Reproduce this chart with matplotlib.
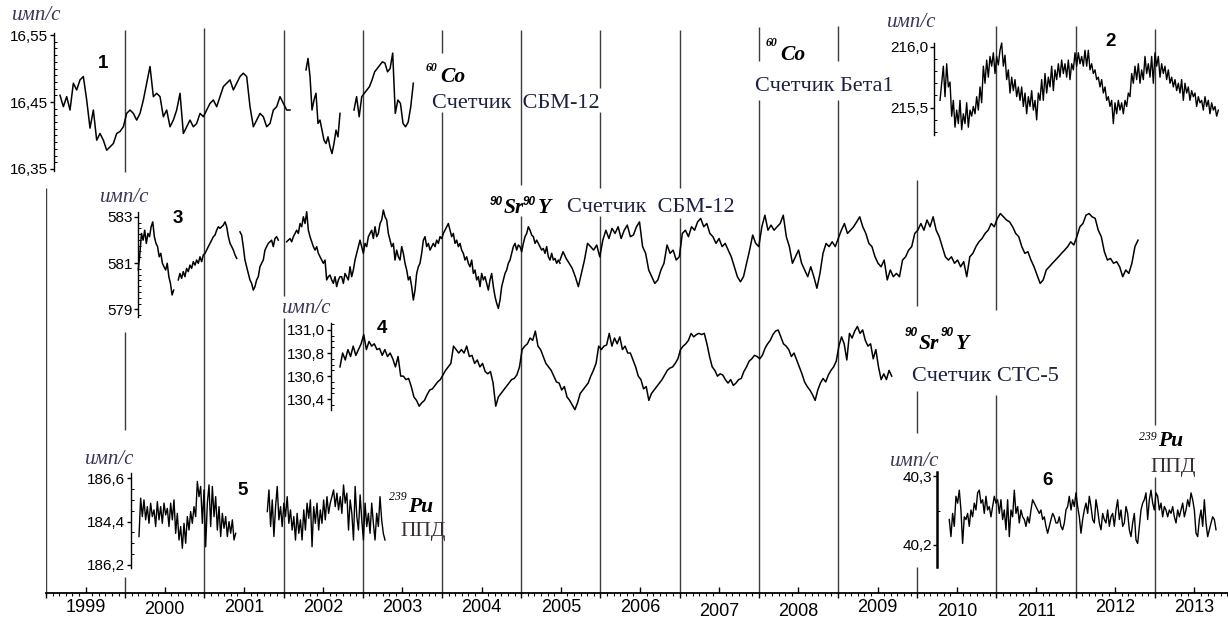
import numpy as np
import matplotlib.pyplot as plt
from matplotlib.ticker import FixedLocator, FixedFormatter, MultipleLocator

# ---------------- data: decimal years and count rates (имп/с) ----------------
years = list(range(1999, 2014))

# 1: 60Co, счетчик СБМ-12 (three pieces with gaps)
s1_spans = [(1999.177, 2002.081), (2002.283, 2002.712), (2002.889, 2003.638)]
s1_a = [16.460, 16.443, 16.458, 16.438, 16.478, 16.468, 16.483, 16.488, 16.453, 16.411,
        16.438, 16.393, 16.403, 16.393, 16.378, 16.383, 16.388, 16.403, 16.406, 16.413,
        16.433, 16.438, 16.433, 16.423, 16.433, 16.453, 16.478, 16.503, 16.458, 16.463,
        16.458, 16.428, 16.438, 16.413, 16.423, 16.438, 16.463, 16.403, 16.413, 16.423,
        16.413, 16.418, 16.433, 16.428, 16.438, 16.448, 16.453, 16.443, 16.458, 16.473,
        16.478, 16.483, 16.468, 16.478, 16.488, 16.493, 16.488, 16.443, 16.413, 16.423,
        16.433, 16.428, 16.413, 16.418, 16.438, 16.443, 16.458, 16.448, 16.438, 16.438]
s1_b = [16.498, 16.515, 16.488, 16.438, 16.453, 16.463, 16.418, 16.423, 16.408, 16.393,
        16.388, 16.398, 16.383, 16.373, 16.388, 16.408, 16.398, 16.433]
s1_c = [16.438, 16.458, 16.428, 16.458, 16.463, 16.468, 16.473, 16.483, 16.495, 16.500,
        16.505, 16.510, 16.508, 16.495, 16.500, 16.523, 16.433, 16.453, 16.448, 16.418,
        16.413, 16.420, 16.443, 16.478]

# 2: 60Co, счетчик Бета1
s2_spans = [(2010.288, 2013.802)]
s2_a = [215.56, 215.70, 215.84, 215.59, 215.86, 215.67, 215.71, 215.43, 215.56, 215.34,
        215.48, 215.37, 215.56, 215.32, 215.45, 215.37, 215.54, 215.34, 215.48, 215.43,
        215.51, 215.45, 215.59, 215.48, 215.67, 215.54, 215.84, 215.70, 215.89, 215.75,
        215.92, 215.84, 215.95, 215.78, 215.92, 215.85, 215.97, 216.03, 215.84, 215.93,
        215.73, 215.81, 215.62, 215.75, 215.64, 215.73, 215.59, 215.67, 215.56, 215.67,
        215.51, 215.62, 215.45, 215.59, 215.51, 215.64, 215.48, 215.56, 215.40, 215.62,
        215.56, 215.73, 215.56, 215.78, 215.62, 215.75, 215.67, 215.84, 215.64, 215.81,
        215.73, 215.86, 215.75, 215.89, 215.78, 215.86, 215.75, 215.89, 215.73, 215.86,
        215.81, 215.95, 215.84, 215.95, 215.86, 215.92, 215.84, 215.97, 215.84, 215.97,
        215.81, 215.86, 215.78, 215.81, 215.73, 215.75, 215.67, 215.73, 215.62, 215.67,
        215.56, 215.59, 215.51, 215.56, 215.37, 215.54, 215.45, 215.56, 215.48, 215.54,
        215.45, 215.56, 215.51, 215.62, 215.59, 215.78, 215.70, 215.84, 215.73, 215.86,
        215.70, 215.81, 215.73, 215.92, 215.78, 215.86, 215.75, 215.92, 215.70, 215.95,
        215.84, 215.92, 215.75, 215.86, 215.78, 215.84, 215.73, 215.81, 215.70, 215.75,
        215.67, 215.73, 215.64, 215.70, 215.62, 215.73, 215.56, 215.70, 215.62, 215.67,
        215.56, 215.64, 215.59, 215.62, 215.51, 215.59, 215.54, 215.56, 215.48, 215.59,
        215.51, 215.56, 215.45, 215.54, 215.48, 215.51, 215.43, 215.48]

# 3: 90Sr90Y, счетчик СБМ-12
s3_spans = [(2000.165, 2000.612), (2000.670, 2001.408), (2001.449, 2001.933),
            (2002.039, 2005.490), (2005.490, 2012.788)]
s3_a = [580.70, 581.42, 582.28, 581.99, 582.42, 581.85, 582.28, 582.14, 582.57, 582.78,
        582.14, 581.85, 581.71, 581.27, 581.42, 580.99, 580.84, 580.70, 580.99, 580.41,
        580.12, 579.62, 579.83]
s3_b = [580.27, 580.55, 580.34, 580.63, 580.41, 580.77, 580.63, 580.91, 580.77, 581.06,
        580.91, 581.13, 580.99, 581.27, 581.06, 581.35, 581.42, 581.56, 581.71, 581.85,
        581.99, 582.14, 582.21, 582.42, 582.57, 582.50, 582.57, 582.64, 582.78, 582.57,
        582.14, 581.85, 581.71, 581.56, 581.35, 581.20]
s3_c = [582.35, 582.21, 581.71, 581.13, 580.84, 580.55, 580.27, 580.12, 579.83, 579.98,
        580.27, 580.41, 580.84, 580.99, 581.13, 581.56, 581.71, 581.85, 581.92, 581.99,
        581.71, 582.06, 582.14, 581.99]
s3_d = [581.92, 581.99, 582.06, 581.92, 582.14, 582.28, 582.42, 582.28, 582.71, 582.57,
        583.00, 582.71, 583.22, 582.42, 582.14, 581.92, 581.71, 581.56, 581.71, 581.42,
        581.27, 581.13, 580.99, 581.13, 580.27, 580.41, 580.48, 580.27, 580.12, 580.41,
        579.98, 580.27, 580.41, 580.41, 580.12, 580.55, 580.41, 580.27, 580.84, 580.41,
        580.70, 581.13, 581.42, 581.71, 581.99, 581.71, 581.42, 581.85, 581.71, 582.14,
        582.28, 582.42, 582.06, 582.57, 582.14, 582.28, 582.71, 582.86, 583.29, 583.00,
        582.86, 582.28, 581.99, 581.71, 581.85, 581.13, 581.56, 581.27, 581.13, 581.71,
        581.42, 580.99, 580.70, 580.27, 580.41, 579.98, 579.40, 579.83, 580.55, 580.84,
        580.99, 581.42, 581.99, 582.14, 581.71, 581.85, 581.56, 581.71, 581.85, 581.71,
        581.99, 581.85, 582.14, 582.06, 582.28, 582.42, 582.57, 582.71, 582.42, 582.14,
        582.28, 581.85, 581.99, 581.71, 581.85, 581.56, 581.42, 581.13, 581.27, 580.99,
        580.84, 581.13, 580.55, 580.70, 580.27, 580.41, 579.98, 580.55, 580.27, 580.41,
        580.12, 579.83, 580.27, 580.55, 579.98, 579.55, 579.26, 579.04, 579.40, 579.98,
        580.27, 580.55, 580.70, 580.99, 581.13, 581.42, 581.71, 581.85, 581.56, 581.78,
        581.71, 581.49, 581.85, 582.14, 582.28, 582.57, 582.42, 582.21, 582.14, 581.85,
        581.99, 581.85, 581.71, 581.56, 581.63, 581.42, 581.71, 581.27, 581.13, 581.42,
        581.13, 581.20, 580.99, 581.13, 580.99]
s3_e = [581.13, 581.49, 581.20, 580.99, 580.77, 580.41, 579.98, 580.55, 581.13, 581.85,
        581.71, 581.56, 581.78, 581.27, 581.99, 582.42, 582.06, 582.50, 582.28, 582.57,
        582.06, 582.42, 582.64, 582.14, 582.21, 582.57, 582.78, 581.71, 581.42, 580.70,
        580.41, 580.12, 580.27, 580.70, 580.99, 581.78, 581.42, 581.56, 581.13, 581.27,
        582.28, 582.42, 582.14, 582.57, 582.42, 582.78, 582.93, 582.57, 582.71, 582.28,
        582.14, 581.85, 582.06, 581.71, 581.85, 581.56, 581.27, 580.84, 580.41, 580.19,
        580.41, 580.99, 581.56, 582.21, 581.85, 581.71, 582.57, 583.07, 582.42, 582.64,
        582.42, 582.57, 582.71, 583.07, 582.14, 581.71, 580.99, 581.27, 581.56, 580.99,
        580.70, 580.41, 580.84, 580.41, 579.91, 580.55, 581.42, 581.85, 581.71, 581.92,
        581.71, 582.06, 582.42, 582.71, 582.28, 582.42, 582.57, 582.78, 583.00, 582.57,
        582.28, 581.85, 581.71, 581.27, 580.99, 580.84, 581.13, 580.27, 580.70, 580.41,
        580.55, 580.41, 581.13, 581.27, 581.56, 581.71, 582.28, 582.42, 582.71, 582.42,
        582.86, 582.57, 583.00, 582.42, 582.14, 581.71, 581.27, 581.13, 581.27, 580.99,
        581.13, 580.84, 581.06, 580.41, 581.27, 581.42, 581.71, 581.92, 582.06, 582.28,
        582.42, 582.71, 582.57, 582.93, 583.14, 583.00, 582.86, 582.78, 582.57, 582.28,
        582.14, 581.71, 581.42, 581.49, 581.13, 580.84, 580.48, 580.12, 580.27, 580.70,
        580.84, 580.99, 581.13, 581.27, 581.42, 581.56, 581.71, 581.92, 581.78, 582.14,
        582.57, 582.71, 583.07, 583.14, 583.00, 582.93, 582.42, 582.14, 581.49, 581.13,
        581.20, 580.99, 581.06, 580.84, 580.41, 580.70, 580.55, 580.99, 581.71, 581.99]

# 4: 90Sr90Y, счетчик СТС-5
s4_spans = [(2002.712, 2009.678)]
s4_a = [130.68, 130.80, 130.74, 130.83, 130.77, 130.86, 130.78, 130.83, 130.88, 130.96,
        130.83, 130.90, 130.86, 130.88, 130.83, 130.84, 130.78, 130.83, 130.77, 130.80,
        130.75, 130.68, 130.77, 130.60, 130.60, 130.57, 130.58, 130.51, 130.42, 130.39,
        130.34, 130.37, 130.39, 130.44, 130.48, 130.49, 130.52, 130.55, 130.57, 130.61,
        130.65, 130.68, 130.71, 130.86, 130.83, 130.80, 130.83, 130.80, 130.86, 130.77,
        130.78, 130.71, 130.74, 130.68, 130.71, 130.64, 130.62, 130.64, 130.54, 130.34,
        130.42, 130.45, 130.48, 130.51, 130.54, 130.57, 130.58, 130.61, 130.68, 130.83,
        130.86, 130.88, 130.93, 130.91, 130.99, 130.86, 130.83, 130.77, 130.71, 130.68,
        130.65, 130.60, 130.55, 130.54, 130.48, 130.51, 130.42, 130.39, 130.35, 130.31,
        130.37, 130.45, 130.48, 130.51, 130.54, 130.60, 130.65, 130.71, 130.86, 130.83,
        130.86, 130.87, 130.97, 130.86, 130.93, 130.88, 130.94, 130.83, 130.86, 130.80,
        130.80, 130.74, 130.68, 130.60, 130.57, 130.49, 130.51, 130.39, 130.45, 130.48,
        130.51, 130.54, 130.57, 130.61, 130.65, 130.67, 130.68, 130.71, 130.75, 130.83,
        130.86, 130.88, 130.91, 130.97, 130.94, 130.96, 130.97,
        130.96, 130.97, 130.88, 130.77, 130.68, 130.65, 130.60, 130.62, 130.61, 130.57,
        130.54, 130.57, 130.52, 130.54, 130.57, 130.58, 130.64, 130.68, 130.73, 130.75,
        130.78, 130.77, 130.75, 130.78, 130.84, 130.88, 130.91, 130.96, 130.99, 131.00,
        130.94, 130.88, 130.86, 130.83, 130.77, 130.80, 130.74, 130.68, 130.62, 130.55,
        130.51, 130.48, 130.44, 130.39, 130.48, 130.54, 130.58, 130.55, 130.61, 130.65,
        130.68, 130.73, 130.86, 130.94, 130.88, 130.74, 130.97, 130.93, 130.99, 131.03,
        130.97, 131.00, 130.91, 130.86, 130.88, 130.75, 130.83, 130.68, 130.57, 130.62,
        130.57, 130.65, 130.60]

# 5: 239Pu, ППД (left)
s5_spans = [(2000.174, 2001.395), (2001.794, 2003.280)]
s5_a = [186.331, 186.508, 186.423, 186.500, 186.408, 186.469, 186.392, 186.485, 186.423, 186.454,
        186.377, 186.492, 186.408, 186.469, 186.392, 186.485, 186.431, 186.461, 186.377, 186.485,
        186.408, 186.500, 186.346, 186.438, 186.315, 186.377, 186.277, 186.392, 186.300, 186.423,
        186.361, 186.446, 186.392, 186.469, 186.423, 186.585, 186.515, 186.562, 186.392, 186.546,
        186.284, 186.485, 186.569, 186.377, 186.562, 186.423, 186.515, 186.361, 186.469, 186.331,
        186.438, 186.369, 186.423, 186.331, 186.400, 186.346, 186.408, 186.315, 186.346]
s5_b = [186.446, 186.546, 186.377, 186.500, 186.331, 186.469, 186.562, 186.408, 186.469, 186.377,
        186.485, 186.423, 186.515, 186.392, 186.454, 186.361, 186.423, 186.315, 186.438, 186.346,
        186.408, 186.315, 186.454, 186.361, 186.485, 186.415, 186.500, 186.284, 186.469, 186.392,
        186.485, 186.361, 186.454, 186.392, 186.500, 186.408, 186.515, 186.438, 186.485, 186.515,
        186.546, 186.469, 186.531, 186.454, 186.515, 186.438, 186.569, 186.485, 186.531, 186.361,
        186.500, 186.438, 186.315, 186.562, 186.423, 186.361, 186.523, 186.408, 186.315, 186.485,
        186.377, 186.438, 186.346, 186.485, 186.392, 186.315, 186.438, 186.377, 186.515, 186.408,
        186.346, 186.315]

# 6: 239Pu, ППД (right)
s6_spans = [(2010.405, 2013.773)]
s6_a = [40.237, 40.212, 40.246, 40.227, 40.271, 40.261, 40.280, 40.251, 40.202, 40.241,
        40.237, 40.246, 40.227, 40.251, 40.241, 40.261, 40.251, 40.276, 40.280, 40.261,
        40.266, 40.246, 40.271, 40.251, 40.256, 40.241, 40.256, 40.271, 40.261, 40.266,
        40.246, 40.266, 40.237, 40.251, 40.222, 40.266, 40.212, 40.251, 40.241, 40.280,
        40.246, 40.256, 40.232, 40.251, 40.241, 40.237, 40.227, 40.241, 40.232, 40.251,
        40.266, 40.261, 40.256, 40.251, 40.246, 40.251, 40.237, 40.241, 40.227, 40.217,
        40.227, 40.237, 40.246, 40.241, 40.232, 40.232, 40.241, 40.227, 40.222, 40.232,
        40.251, 40.256, 40.271, 40.251, 40.266, 40.256, 40.276, 40.256, 40.241, 40.217,
        40.237, 40.251, 40.261, 40.246, 40.271, 40.256, 40.237, 40.232, 40.266, 40.251,
        40.232, 40.222, 40.246, 40.237, 40.232, 40.251, 40.227, 40.241, 40.246, 40.227,
        40.251, 40.266, 40.237, 40.251, 40.227, 40.232, 40.256, 40.246, 40.222, 40.212,
        40.232, 40.246, 40.207, 40.202, 40.227, 40.251, 40.261, 40.266, 40.276, 40.237,
        40.266, 40.280, 40.261, 40.251, 40.276, 40.271, 40.251, 40.261, 40.241, 40.256,
        40.251, 40.241, 40.251, 40.246, 40.256, 40.241, 40.232, 40.251, 40.241, 40.251,
        40.261, 40.241, 40.251, 40.266, 40.256, 40.276, 40.266, 40.251, 40.217, 40.212,
        40.237, 40.251, 40.227, 40.266, 40.232, 40.212, 40.222, 40.232, 40.241, 40.237,
        40.222]

# ---------------- layout ----------------
W, H = 1228, 619
X0_PX, PX_PER_YEAR = 46, 79.2        # 1999.0 sits at x=46 px
AXIS_Y = 593                          # time axis line
XMAX = 1999 + (W - X0_PX) / PX_PER_YEAR

SERIF = ['Liberation Serif', 'DejaVu Serif']
SANS = ['Liberation Sans', 'DejaVu Sans']
TXT = '#1d2140'
UNIT = '#3a3658'
LINE = '#3c3c3c'

plt.rcParams['font.family'] = SANS

fig = plt.figure(figsize=(W / 100, H / 100), dpi=100)

# main axes: x in years, y in pixels from the top
ax = fig.add_axes([X0_PX / W, 1 - AXIS_Y / H, (W - X0_PX) / W, AXIS_Y / H])
ax.set_xlim(1999, XMAX)
ax.set_ylim(AXIS_Y, 0)
ax.patch.set_alpha(0)
for s in ['top', 'right', 'left']:
    ax.spines[s].set_visible(False)
ax.spines['bottom'].set_linewidth(1.3)
ax.set_yticks([])
ax.set_xticks([y + 0.5 for y in years])
ax.set_xticklabels([])
ax.xaxis.set_minor_locator(MultipleLocator(1 / 12))
ax.tick_params(axis='x', which='major', direction='in', length=4, width=1)
ax.tick_params(axis='x', which='minor', direction='out', length=2.5, width=0.8)

# year boundary lines (broken where labels and insets sit)
line_segments = {
    1999: [(188, 593)],
    2000: [(30, 172), (332, 430), (577, 593)],
    2001: [(28, 593)],
    2002: [(30, 296), (318, 593)],
    2003: [(30, 593)],
    2004: [(30, 53), (112, 593)],
    2005: [(30, 185), (216, 593)],
    2006: [(30, 88), (112, 188), (216, 593)],
    2007: [(30, 188), (218, 593)],
    2008: [(27, 61), (100, 593)],
    2009: [(26, 61), (100, 593)],
    2010: [(180, 306), (391, 433), (567, 593)],
    2011: [(26, 310), (395, 593)],
    2012: [(26, 593)],
    2013: [(29, 425), (477, 593)],
}
for yr, segs in line_segments.items():
    for top, bot in segs:
        ax.vlines(yr, top, bot, colors=LINE, lw=1.0, zorder=1)
ax.vlines(years, AXIS_Y, AXIS_Y + 5, colors='k', lw=1.0, clip_on=False)

label_dy = {2000: 1, 2007: 4, 2008: 3, 2010: 4, 2011: 3}
for yr in years:
    ax.text(yr + 0.5, 608 + label_dy.get(yr, 0), str(yr), ha='center', va='center',
            fontsize=13, family=SANS, color='k', clip_on=False)


def inset(top, bot, ylim, spine_x, majors, labels, minor, lw=1.0):
    a = fig.add_axes([X0_PX / W, 1 - bot / H, (W - X0_PX) / W, (bot - top) / H])
    a.set_xlim(1999, XMAX)
    a.set_ylim(*ylim)
    a.patch.set_alpha(0)
    for s in ['top', 'right', 'bottom']:
        a.spines[s].set_visible(False)
    a.spines['left'].set_position(('data', spine_x))
    a.spines['left'].set_linewidth(lw)
    a.set_xticks([])
    a.yaxis.set_major_locator(FixedLocator(majors))
    a.yaxis.set_major_formatter(FixedFormatter(labels))
    a.yaxis.set_minor_locator(MultipleLocator(minor))
    a.tick_params(axis='y', which='major', direction='out', length=3, width=1,
                  pad=1, labelsize=11)
    a.tick_params(axis='y', which='minor', direction='in', length=2, width=0.7)
    return a


def draw(a, spans, pieces, lw=1.1):
    for (x0, x1), vals in zip(spans, pieces):
        a.plot(np.linspace(x0, x1, len(vals)), vals, color='k', lw=lw, clip_on=False)


a1 = inset(33, 171, (16.347, 16.553), 1999.101, [16.35, 16.45, 16.55],
           ['16,35', '16,45', '16,55'], 0.01)
draw(a1, s1_spans, [s1_a, s1_b, s1_c])

a2 = inset(43, 135, (215.276, 216.03), 2010.212, [215.5, 216.0],
           ['215,5', '216,0'], 0.1)
draw(a2, s2_spans, [s2_a], lw=1.0)

a3 = inset(211.7, 316.7, (578.68, 583.22), 2000.165, [579, 581, 583],
           ['579', '581', '583'], 0.25)
draw(a3, s3_spans, [s3_a, s3_b, s3_c, s3_d, s3_e])

a4 = inset(323, 410, (130.307, 131.06), 2002.598, [130.4, 130.6, 130.8, 131.0],
           ['130,4', '130,6', '130,8', '131,0'], 0.05)
draw(a4, s4_spans, [s4_a])

a5 = inset(473, 568, (186.186, 186.624), 2000.073, [186.2, 186.4, 186.6],
           ['186,2', '184,4', '186,6'], 0.05)
draw(a5, s5_spans, [s5_a, s5_b], lw=1.0)

a6 = inset(471.7, 566.7, (40.168, 40.307), 2010.254, [40.2, 40.3],
           ['40,2', '40,3'], 0.05, lw=1.8)
draw(a6, s6_spans, [s6_a], lw=1.0)


# ---------------- texts (pixel positions, baseline anchored) ----------------
def put(x, y, s, size, family=SERIF, color=TXT, **kw):
    fig.text(x / W, 1 - y / H, s, fontsize=size, family=family, color=color,
             ha='left', va='baseline', **kw)


for x, y in [(12, 20), (887, 27), (100, 202), (282, 313), (85, 464), (890, 466)]:
    put(x, y, 'имп/с', 15, color=UNIT, style='italic')

for x, y, n in [(98, 68, '1'), (1105, 46.5, '2'), (173, 223, '3'),
                (377, 333, '4'), (237, 495, '5'), (1042, 485, '6')]:
    put(x, y, n, 13.5, family=SANS, color='k', weight='bold')

BI = dict(weight='bold', style='italic', color='k')

# 60Co, СБМ-12
put(426, 71, '60', 8.5, **BI)
put(440, 82, 'Co', 15.5, **BI)
put(432, 108, 'Счетчик  СБМ-12', 16)

# 60Co, Бета1
put(766, 46, '60', 8.5, **BI)
put(780, 60, 'Co', 15.5, **BI)
put(755, 91, 'Счетчик Бета1', 16)

# 90Sr90Y, СБМ-12
put(490, 205, '90', 8.5, family=SANS, **BI)
put(504, 213, 'Sr', 15.5, **BI)
put(523, 205, '90', 8.5, family=SANS, **BI)
put(538, 213, 'Y', 15.5, **BI)
put(567, 212, 'Счетчик  СБМ-12', 16)

# 90Sr90Y, СТС-5
put(905, 336, '90', 8.5, family=SANS, **BI)
put(919, 349, 'Sr', 15.5, **BI)
put(941, 336, '90', 8.5, family=SANS, **BI)
put(956, 349, 'Y', 15.5, **BI)
put(912, 381, 'Счетчик СТС-5', 16)

# 239Pu, ППД
put(389, 500, '239', 8.5, style='italic', color='k')
put(408, 512, 'Pu', 15.5, **BI)
put(400, 536, 'ППД', 15.5, color='#3a2e2e')
put(1139, 440, '239', 8.5, style='italic', color='k')
put(1158, 446, 'Pu', 15.5, **BI)
put(1150, 472, 'ППД', 15.5, color='#3a2e2e')

fig.savefig('out.png', dpi=100)
